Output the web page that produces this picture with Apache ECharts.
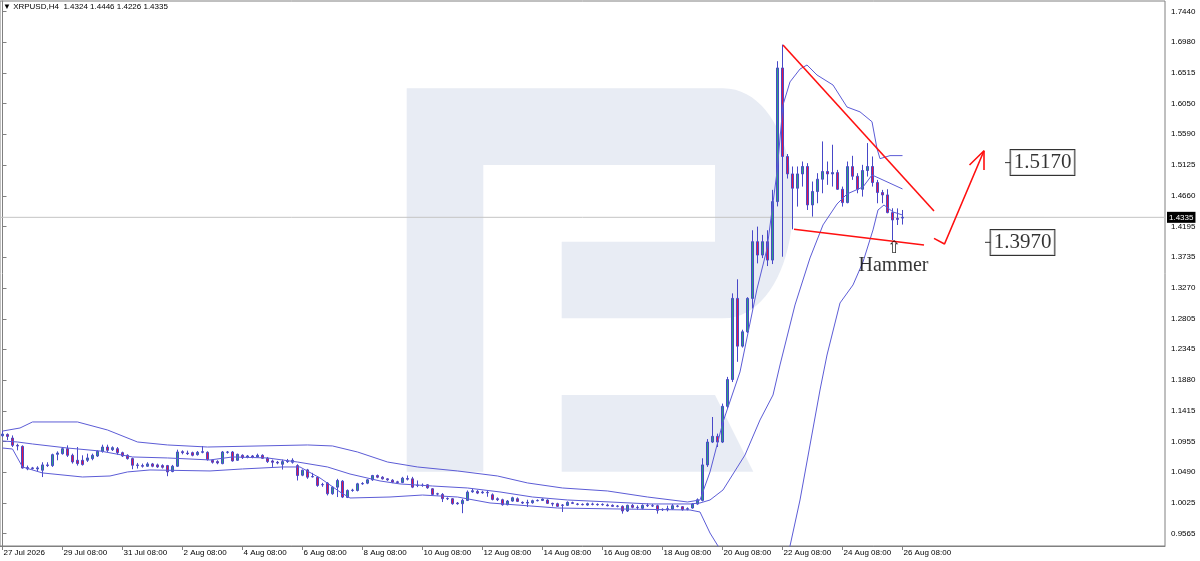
<!DOCTYPE html>
<html>
<head>
<meta charset="utf-8">
<script src="https://cdn.jsdelivr.net/npm/echarts@6/dist/echarts.min.js"></script>
<style>
html,body{margin:0;padding:0;background:#fff;}
#chart{width:1200px;height:561px;}
</style>
</head>
<body>
<div id="chart"></div>
<script>
// ---------------- DATA ----------------
const symbolTitle = 'XRPUSD,H4';
const headerValues = ['1.4324', '1.4446', '1.4226', '1.4335'];

// x-axis tick labels, one every 12 bars (2 days of H4 bars)
const tickLabels = ['27 Jul 2026', '29 Jul 08:00', '31 Jul 08:00', '2 Aug 08:00', '4 Aug 08:00',
  '6 Aug 08:00', '8 Aug 08:00', '10 Aug 08:00', '12 Aug 08:00', '14 Aug 08:00', '16 Aug 08:00',
  '18 Aug 08:00', '20 Aug 08:00', '22 Aug 08:00', '24 Aug 08:00', '26 Aug 08:00'];
const barsPerLabel = 12;
const slotCount = 233; // visible bar slots incl. empty space on the right

// y-axis tick labels
const yTicks = [0.9565, 1.0025, 1.0490, 1.0955, 1.1415, 1.1880, 1.2345, 1.2805, 1.3270,
  1.3735, 1.4195, 1.4660, 1.5125, 1.5590, 1.6050, 1.6515, 1.6980, 1.7440];

// candles: [open, high, low, close]
const candles = [
[1.1040,1.1110,1.1020,1.1065],[1.1060,1.1075,1.0975,1.1030],[1.1005,1.1045,1.0870,1.0895],[1.0895,1.0920,1.0820,1.0885],
[1.0880,1.0895,1.0545,1.0553],[1.0560,1.0590,1.0520,1.0540],[1.0555,1.0570,1.0530,1.0545],[1.0540,1.0580,1.0505,1.0555],
[1.0520,1.0640,1.0417,1.0600],[1.0600,1.0640,1.0570,1.0590],[1.0590,1.0770,1.0570,1.0755],[1.0760,1.0805,1.0670,1.0780],
[1.0770,1.0870,1.0755,1.0845],[1.0845,1.0895,1.0720,1.0745],[1.0745,1.0770,1.0620,1.0645],[1.0670,1.0870,1.0590,1.0620],
[1.0670,1.0745,1.0590,1.0605],[1.0670,1.0770,1.0645,1.0705],[1.0695,1.0770,1.0670,1.0745],[1.0735,1.0820,1.0720,1.0805],
[1.0805,1.0905,1.0785,1.0870],[1.0870,1.0905,1.0795,1.0820],[1.0830,1.0880,1.0810,1.0860],[1.0845,1.0870,1.0755,1.0785],
[1.0785,1.0800,1.0720,1.0735],[1.0745,1.0760,1.0680,1.0695],[1.0695,1.0710,1.0535,1.0595],[1.0600,1.0630,1.0545,1.0590],
[1.0590,1.0620,1.0560,1.0580],[1.0580,1.0640,1.0570,1.0615],[1.0615,1.0630,1.0565,1.0580],[1.0600,1.0620,1.0555,1.0570],
[1.0590,1.0610,1.0545,1.0565],[1.0590,1.0600,1.0430,1.0495],[1.0500,1.0600,1.0490,1.0580],[1.0580,1.0830,1.0570,1.0795],
[1.0800,1.0820,1.0760,1.0785],[1.0780,1.0815,1.0750,1.0770],[1.0785,1.0800,1.0730,1.0745],[1.0755,1.0810,1.0740,1.0790],
[1.0790,1.0885,1.0775,1.0800],[1.0790,1.0805,1.0665,1.0680],[1.0670,1.0680,1.0620,1.0640],[1.0650,1.0670,1.0610,1.0630],
[1.0620,1.0810,1.0610,1.0795],[1.0790,1.0810,1.0770,1.0795],[1.0795,1.0810,1.0650,1.0660],[1.0670,1.0770,1.0660,1.0760],
[1.0745,1.0760,1.0690,1.0710],[1.0715,1.0750,1.0700,1.0735],[1.0735,1.0750,1.0700,1.0720],[1.0720,1.0770,1.0710,1.0745],
[1.0745,1.0760,1.0690,1.0700],[1.0700,1.0720,1.0630,1.0650],[1.0660,1.0680,1.0570,1.0640],[1.0640,1.0660,1.0610,1.0630],
[1.0610,1.0680,1.0530,1.0650],[1.0650,1.0690,1.0630,1.0660],[1.0640,1.0700,1.0620,1.0670],[1.0590,1.0610,1.0365,1.0440],
[1.0445,1.0530,1.0430,1.0520],[1.0525,1.0540,1.0390,1.0415],[1.0420,1.0480,1.0410,1.0425],[1.0415,1.0430,1.0270,1.0290],
[1.0305,1.0330,1.0270,1.0300],[1.0325,1.0340,1.0140,1.0165],[1.0165,1.0280,1.0150,1.0265],[1.0265,1.0390,1.0115,1.0365],
[1.0355,1.0370,1.0100,1.0115],[1.0110,1.0230,1.0100,1.0215],[1.0215,1.0240,1.0195,1.0220],[1.0215,1.0330,1.0200,1.0315],
[1.0315,1.0340,1.0300,1.0320],[1.0325,1.0385,1.0310,1.0375],[1.0375,1.0450,1.0360,1.0440],[1.0440,1.0455,1.0400,1.0415],
[1.0415,1.0430,1.0380,1.0390],[1.0390,1.0400,1.0360,1.0375],[1.0370,1.0385,1.0325,1.0340],[1.0345,1.0360,1.0320,1.0335],
[1.0335,1.0420,1.0325,1.0400],[1.0395,1.0440,1.0365,1.0385],[1.0390,1.0420,1.0250,1.0265],[1.0295,1.0365,1.0265,1.0290],
[1.0295,1.0320,1.0270,1.0290],[1.0300,1.0310,1.0240,1.0255],[1.0240,1.0250,1.0140,1.0155],[1.0165,1.0180,1.0140,1.0160],
[1.0155,1.0175,1.0040,1.0090],[1.0095,1.0110,1.0070,1.0090],[1.0090,1.0100,1.0000,1.0015],[1.0025,1.0040,1.0000,1.0015],
[1.0015,1.0090,0.9872,1.0065],[1.0065,1.0215,1.0055,1.0190],[1.0195,1.0240,1.0180,1.0210],[1.0200,1.0220,1.0160,1.0175],
[1.0180,1.0210,1.0165,1.0190],[1.0185,1.0215,1.0120,1.0180],[1.0150,1.0170,1.0065,1.0080],[1.0090,1.0110,1.0055,1.0075],
[1.0075,1.0090,0.9985,1.0000],[1.0000,1.0070,0.9990,1.0055],[1.0055,1.0120,1.0045,1.0105],[1.0090,1.0110,1.0040,1.0050],
[1.0035,1.0050,1.0010,1.0025],[1.0025,1.0075,0.9965,1.0035],[1.0030,1.0075,1.0015,1.0060],[1.0060,1.0080,1.0050,1.0065],
[1.0065,1.0095,1.0055,1.0085],[1.0070,1.0080,1.0010,1.0020],[1.0020,1.0030,0.9975,1.0010],[1.0015,1.0030,0.9965,0.9975],
[0.9995,1.0010,0.9890,0.9990],[0.9990,1.0050,0.9980,1.0035],[1.0030,1.0045,1.0010,1.0020],[1.0010,1.0025,0.9990,1.0005],
[1.0005,1.0020,0.9990,1.0000],[0.9995,1.0030,0.9985,1.0015],[1.0010,1.0030,0.9990,1.0005],[1.0005,1.0020,0.9985,1.0000],
[1.0000,1.0020,0.9985,1.0005],[0.9995,1.0015,0.9975,0.9985],[0.9990,1.0005,0.9965,0.9975],[0.9975,0.9995,0.9960,0.9980],
[0.9975,0.9990,0.9865,0.9905],[0.9905,1.0000,0.9890,0.9990],[0.9990,1.0010,0.9945,0.9960],[0.9960,0.9990,0.9925,0.9955],
[0.9945,1.0005,0.9930,0.9990],[0.9990,1.0020,0.9965,0.9985],[0.9985,1.0010,0.9965,0.9980],[0.9985,1.0000,0.9865,0.9915],
[0.9930,0.9945,0.9905,0.9925],[0.9925,0.9985,0.9900,0.9940],[0.9935,1.0010,0.9925,0.9985],[0.9980,0.9995,0.9960,0.9975],
[0.9970,0.9980,0.9910,0.9925],[0.9930,0.9960,0.9915,0.9940],[0.9950,1.0025,0.9940,1.0010],[1.0010,1.0095,1.0000,1.0075],
[1.0065,1.0700,1.0050,1.0600],[1.0600,1.0990,1.0570,1.0945],[1.0945,1.1323,1.0930,1.1031],[1.1031,1.1072,1.0870,1.0945],
[1.0945,1.1525,1.0930,1.1484],[1.1484,1.1928,1.1450,1.1888],[1.1888,1.3188,1.1850,1.3112],[1.3112,1.3400,1.2155,1.2392],
[1.2392,1.2640,1.2370,1.2608],[1.2608,1.3130,1.2590,1.3112],[1.3112,1.4140,1.2960,1.3968],[1.3968,1.4195,1.3640,1.3766],
[1.3766,1.4070,1.3720,1.3968],[1.3968,1.4140,1.3600,1.3690],[1.3690,1.4750,1.3630,1.4572],[1.4572,1.6690,1.4500,1.6588],
[1.6588,1.6941,1.3741,1.5253],[1.5253,1.5290,1.4920,1.4990],[1.4990,1.5102,1.4154,1.4774],[1.4774,1.5102,1.4497,1.4990],
[1.4990,1.5177,1.4799,1.5102],[1.5102,1.5152,1.4446,1.4522],[1.4522,1.4875,1.4346,1.4724],[1.4724,1.5001,1.4547,1.4910],
[1.4910,1.5480,1.4698,1.5026],[1.5026,1.5177,1.4825,1.4990],[1.4990,1.5430,1.4799,1.5010],[1.5010,1.5051,1.4749,1.4758],
[1.4758,1.4799,1.4497,1.4557],[1.4557,1.5177,1.4547,1.5100],[1.5100,1.5263,1.4900,1.4955],[1.4955,1.5001,1.4698,1.4758],
[1.4758,1.5127,1.4648,1.5041],[1.5041,1.5455,1.4950,1.5102],[1.5102,1.5253,1.4799,1.4860],[1.4860,1.4900,1.4547,1.4709],
[1.4709,1.4749,1.4547,1.4673],[1.4673,1.4759,1.4396,1.4406],[1.4406,1.4472,1.3993,1.4295],[1.4320,1.4470,1.4219,1.4304],
[1.4324,1.4446,1.4226,1.4335]
];

// Bollinger bands: [bar index, price]
const upperBand = [[0,1.1111],[3.5,1.1157],[6,1.1248],[15,1.1248],[21,1.1127],[27,1.0946],[33,1.0901],[41,1.0870],
  [61,1.0901],[66,1.0886],[71,1.0795],[77,1.0644],[83,1.0569],[91,1.0509],[99,1.0433],[105,1.0328],[112,1.0252],
  [121,1.0207],[129,1.0116],[137,1.0041],[139.5,1.0071],[141.5,1.0494],[144.1,1.1248],[147.5,1.2003],[150.9,1.3255],
  [152.9,1.3859],[154.9,1.5020],[156.1,1.6031],[157.5,1.6378],[159.5,1.6572],[160.9,1.6633],[162.9,1.6482],
  [166.1,1.6331],[168.9,1.5999],[171.5,1.5926],[173.9,1.5777],[174.9,1.5372],[175.5,1.5220],[177.5,1.5266],[180,1.5266]];
const middleBand = [[0,1.0961],[3,1.0946],[6,1.0916],[13,1.0855],[19.5,1.0810],[26,1.0720],[33,1.0705],[41.5,1.0675],
  [46,1.0720],[53,1.0705],[59,1.0644],[65,1.0569],[69.5,1.0463],[75.5,1.0358],[79.5,1.0313],[86,1.0282],[93,1.0252],
  [99.5,1.0192],[106,1.0116],[113,1.0071],[121.5,1.0041],[129.5,1.0011],[137.5,1.0011],[139.5,1.0026],[141.5,1.0071],
  [144.1,1.0222],[148.5,1.0750],[151.5,1.1278],[154.1,1.1655],[155.5,1.2108],[158.5,1.3013],[161.5,1.3722],
  [164.1,1.4220],[166.9,1.4536],[168.9,1.4687],[172.1,1.4793],[173.9,1.4974],[176.1,1.4898],[180,1.4763]];
const lowerBand = [[0,1.0855],[2,1.0840],[4,1.0569],[8,1.0479],[16,1.0418],[21.5,1.0433],[25,1.0494],[29.5,1.0524],
  [41.5,1.0509],[48,1.0539],[56,1.0569],[59.5,1.0569],[63.5,1.0403],[67.5,1.0192],[69.5,1.0101],[77.5,1.0116],
  [84,1.0146],[91,1.0116],[97.5,1.0026],[111,0.9950],[123.5,0.9935],[137.5,0.9920],[139.5,0.9890],[141.5,0.9573],
  [143.1,0.9377],[146,0.9000],[150,0.8650],[154,0.8700],[157.5,0.9377],[159.5,1.0071],[161.5,1.0900],[163.5,1.1730],
  [164.9,1.2258],[167.5,1.3043],[170.1,1.3315],[172.1,1.3662],[174.1,1.4145],[175.1,1.4446],[176.3,1.4521],
  [178.1,1.4416],[180,1.4370]];

// hand-drawn annotations: [bar index, price]
const triangleUpper = [[156.1,1.6935],[186.3,1.4430]];
const triangleLower = [[158.3,1.4154],[184.3,1.3918]];
const forecastPath = [[186.3,1.4018],[188.4,1.3933],[196.3,1.5340]];
const arrowHead = [[193.4,1.5124],[196.3,1.5340],[196.3,1.5049]];
const targetLabels = [
  {text:'1.5170', at:[208.0,1.5162], dash:[[200.5,1.5160],[201.7,1.5160]]},
  {text:'1.3970', at:[204.0,1.3955], dash:[[196.5,1.3958],[197.8,1.3958]]}
];
const patternLabel = {text:'Hammer', at:[178.2,1.3601]};
const patternArrow = {text:'\u21E7', at:[178.3,1.3865]};
const currentPrice = 1.4335;

// ---------------- CHART ----------------
const Y_MIN = 0.93769, Y_MAX = 1.75984;
const categories = Array.from({length: slotCount}, (_, i) => {
  const d = new Date(Date.UTC(2026, 6, 27, 8) + i * 4 * 3600 * 1000);
  const m = ['Jan','Feb','Mar','Apr','May','Jun','Jul','Aug','Sep','Oct','Nov','Dec'][d.getUTCMonth()];
  return d.getUTCDate() + ' ' + m + ' ' + String(d.getUTCHours()).padStart(2,'0') + ':00';
});
const showTick = (idx) => idx % barsPerLabel === 0 && idx / barsPerLabel < tickLabels.length;
const candleData = candles.map(r => [r[0], r[3], r[2], r[1]]);

const AX_FONT = 'Liberation Sans';
const BAND_COLOR = '#5c5cd6';
const RED = '#ff1010';

function lineSeries(data, color, width, z) {
  return {type:'line', xAxisIndex:1, yAxisIndex:0, data, symbol:'none', silent:true, animation:false,
    lineStyle:{color, width}, z: z || 4};
}

// watermark (decorative logo) geometry
function bez(p0,p1,p2,p3,n){const pts=[];for(let k=1;k<=n;k++){const t=k/n,u=1-t;
  pts.push([u*u*u*p0[0]+3*u*u*t*p1[0]+3*u*t*t*p2[0]+t*t*t*p3[0],u*u*u*p0[1]+3*u*u*t*p1[1]+3*u*t*t*p2[1]+t*t*t*p3[1]]);}return pts;}
const bowl = [[406.7,88.3],[723.3,88.3]]
  .concat(bez([723.3,88.3],[765,88.3],[793,140],[793,203],20))
  .concat(bez([793,203],[793,266],[765,318.3],[723.3,318.3],20))
  .concat([[561.7,318.3],[561.7,241.7],[715,241.7],[715,165],[483.3,165],[483.3,471.7],[406.7,471.7]]);
const leg = [[561.7,395],[715,395],[753.3,471.7],[561.7,471.7]];

const chart = echarts.init(document.getElementById('chart'), null, {renderer:'canvas'});
const priceLine = lineSeries([[-0.5, currentPrice], [slotCount - 0.5, currentPrice]], '#c4c4c4', 1, 1);
priceLine.endLabel = {show:true, distance:2, formatter:()=>currentPrice.toFixed(4),
  backgroundColor:'#000', color:'#fff', fontSize:8, fontFamily:AX_FONT, padding:[2,2,1,2]};

const series = [
  priceLine,
  {
    type:'candlestick', data:candleData, barWidth:3, z:3,
    itemStyle:{color:'#2ea37e', color0:'#e3154b', borderColor:'#4848c8', borderColor0:'#4848c8', borderWidth:1}
  },
  lineSeries(upperBand, BAND_COLOR, 1),
  lineSeries(middleBand, BAND_COLOR, 1),
  lineSeries(lowerBand, BAND_COLOR, 1),
  lineSeries(triangleUpper, RED, 1.6),
  lineSeries(triangleLower, RED, 1.6),
  lineSeries(forecastPath, RED, 1.6),
  lineSeries(arrowHead, RED, 1.6),
];
targetLabels.forEach(t => series.push(lineSeries(t.dash, '#333', 1)));
series.push({
  type:'scatter', xAxisIndex:1, yAxisIndex:0, silent:true, symbolSize:0, z:6,
  itemStyle:{color:'transparent'},
  data: targetLabels.map(t => ({value:t.at, label:{show:true, position:'inside', formatter:t.text,
      fontFamily:'Liberation Serif', fontSize:21, color:'#000', backgroundColor:'#fff',
      borderColor:'#000', borderWidth:1, padding:[3,3,1,3], lineHeight:21}}))
    .concat([
      {value:patternLabel.at, label:{show:true, position:'inside', formatter:patternLabel.text,
        fontFamily:'Liberation Serif', fontSize:20, color:'#000'}},
      {value:patternArrow.at, label:{show:true, position:'inside', formatter:patternArrow.text,
        fontFamily:'DejaVu Sans', fontSize:17, color:'#000'}}
    ])
});

chart.setOption({
  animation:false,
  backgroundColor:'#ffffff',
  graphic:[
    {type:'polygon', shape:{points:bowl}, style:{fill:'#e8ecf4'}, z:0, silent:true},
    {type:'polygon', shape:{points:leg}, style:{fill:'#e8ecf4'}, z:0, silent:true},
    {type:'text', left:3, top:3, z:10, style:{text:'\u25BC ' + symbolTitle + '  ' + headerValues.join(' '),
      font:'8px "Liberation Sans"', fill:'#000'}}
  ],
  grid:{left:0, right:35, top:1, bottom:15, show:true, borderColor:'#808080', borderWidth:1, backgroundColor:'transparent'},
  xAxis:[
    {type:'category', data:categories, boundaryGap:true,
      axisLine:{show:true, lineStyle:{color:'#808080'}},
      axisTick:{show:true, alignWithLabel:true, interval:(idx)=>showTick(idx), length:4, lineStyle:{color:'#808080'}},
      axisLabel:{show:true, interval:(idx)=>showTick(idx), formatter:(v, idx)=>tickLabels[idx / barsPerLabel] || '',
        align:'left', margin:3, fontSize:8, fontFamily:AX_FONT, color:'#000', padding:[0,0,0,1]},
      splitLine:{show:false}},
    {type:'value', min:-0.5, max:slotCount - 0.5, show:false}
  ],
  yAxis:{type:'value', position:'right', min:Y_MIN, max:Y_MAX, scale:true,
    axisLine:{show:true, lineStyle:{color:'#808080'}},
    axisTick:{show:true, length:4, customValues:yTicks, lineStyle:{color:'#808080'}},
    axisLabel:{show:true, customValues:yTicks, formatter:(v)=>v.toFixed(4), margin:6, fontSize:8, fontFamily:AX_FONT, color:'#000'},
    splitLine:{show:false}},
  series
});
</script>
</body>
</html>
